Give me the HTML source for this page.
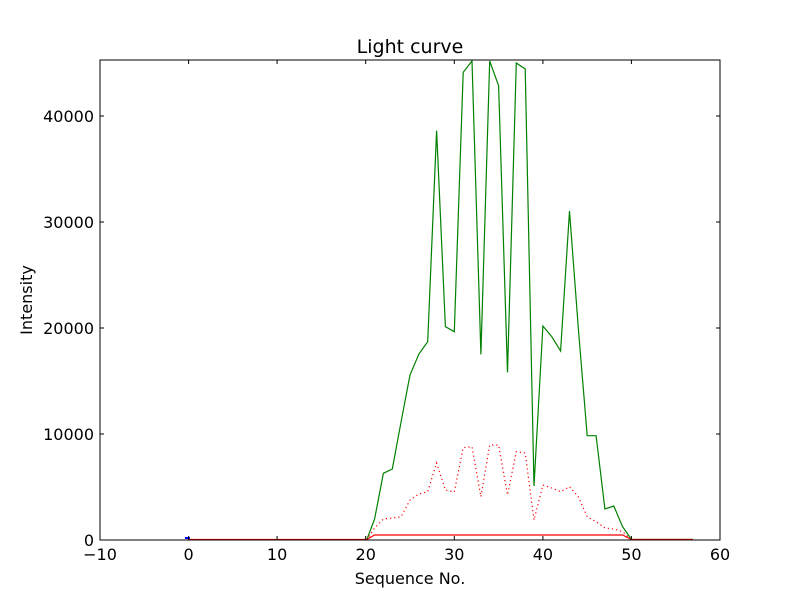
<!DOCTYPE html>
<html><head><style>body{margin:0;background:#fff}svg text{font-family:"DejaVu Sans","Liberation Sans",sans-serif}</style></head><body>
<svg width="800" height="600" xmlns="http://www.w3.org/2000/svg">
<rect width="800" height="600" fill="#fff"/>
<defs><clipPath id="c"><rect x="100" y="60" width="620" height="480"/></clipPath></defs>
<g clip-path="url(#c)" fill="none">
<polyline stroke="#008000" stroke-width="1.2" points="188.6,540 366.7,540 374.6,519 383.4,473.3 392.3,469 401.1,421.7 410,375 418.9,354 427.7,341.7 436.6,130.7 445.4,326.7 454.3,331.7 463.2,72.3 472,61 480.9,354.3 489.7,61 498.6,85.7 507.5,372.3 516.3,63 525.2,69 534,486 542.9,326 551.8,336.7 560.6,351 569.5,211 578.3,328 587.2,435.7 596.1,435.7 604.9,509 613.8,506 622.6,526.7 631.5,539.5 693,539.5"/>
<polyline stroke="#ff0000" stroke-width="1.2" stroke-dasharray="1.2,3" points="366.7,540 374.6,528 383.4,519 392.3,518 401.1,516.7 410,500 418.9,494 427.7,491.7 436.6,463 445.4,490 454.3,492 463.2,447.7 472,446.7 480.9,496.7 489.7,445 498.6,445 507.5,495 516.3,451.7 525.2,453 534,520 542.9,485 551.8,488 560.6,491.7 569.5,486.7 578.3,496.7 587.2,516.7 596.1,521.7 604.9,528 613.8,529 622.6,531.7 631.5,540"/>
<polyline stroke="#ff0000" stroke-width="1.2" points="188.6,539.5 366.7,539.5 374.6,535 622.6,535 631.5,539.5 693,539.5"/>
<line x1="185" y1="538" x2="190" y2="538" stroke="#0000ff" stroke-width="2"/>
</g>
<rect x="100" y="60" width="620" height="480" fill="none" stroke="#000" stroke-width="1"/>
<g stroke="#000" stroke-width="1">
<line x1="188.6" y1="540" x2="188.6" y2="536"/><line x1="277.1" y1="540" x2="277.1" y2="536"/><line x1="365.7" y1="540" x2="365.7" y2="536"/><line x1="454.3" y1="540" x2="454.3" y2="536"/><line x1="542.9" y1="540" x2="542.9" y2="536"/><line x1="631.4" y1="540" x2="631.4" y2="536"/>
<line x1="188.6" y1="60" x2="188.6" y2="64"/><line x1="277.1" y1="60" x2="277.1" y2="64"/><line x1="365.7" y1="60" x2="365.7" y2="64"/><line x1="454.3" y1="60" x2="454.3" y2="64"/><line x1="542.9" y1="60" x2="542.9" y2="64"/><line x1="631.4" y1="60" x2="631.4" y2="64"/>
<line x1="100" y1="434" x2="104" y2="434"/><line x1="100" y1="328" x2="104" y2="328"/><line x1="100" y1="222" x2="104" y2="222"/><line x1="100" y1="116" x2="104" y2="116"/>
<line x1="720" y1="434" x2="716" y2="434"/><line x1="720" y1="328" x2="716" y2="328"/><line x1="720" y1="222" x2="716" y2="222"/><line x1="720" y1="116" x2="716" y2="116"/>
</g>
<g font-size="16" fill="#000" text-anchor="middle">
<text x="100" y="560">−10</text><text x="188.6" y="560">0</text><text x="277.1" y="560">10</text><text x="365.7" y="560">20</text><text x="454.3" y="560">30</text><text x="542.9" y="560">40</text><text x="631.4" y="560">50</text><text x="720" y="560">60</text>
</g>
<g font-size="16" fill="#000" text-anchor="end">
<text x="94" y="546">0</text><text x="94" y="440">10000</text><text x="94" y="334">20000</text><text x="94" y="228">30000</text><text x="94" y="122">40000</text>
</g>
<text x="410" y="584" font-size="16" text-anchor="middle">Sequence No.</text>
<text x="32" y="300" font-size="16" text-anchor="middle" transform="rotate(-90 32 300)">Intensity</text>
<text x="410" y="53" font-size="19" text-anchor="middle">Light curve</text>
</svg>
</body></html>
